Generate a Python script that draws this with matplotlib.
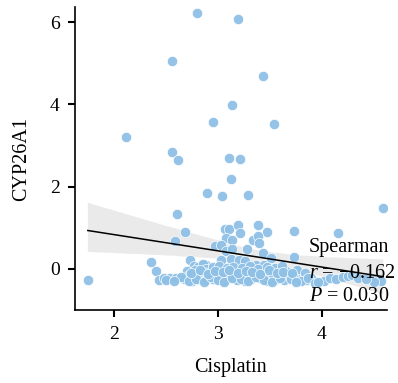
import matplotlib
matplotlib.use("Agg")
import matplotlib.pyplot as plt
import numpy as np
import seaborn as sns

# Cisplatin sensitivity vs CYP26A1 expression
cisplatin_high = [2.80, 3.19, 2.56, 3.43, 3.14, 2.95, 3.54, 2.12, 2.56, 2.62,
                  3.11, 3.21, 3.13, 2.90, 3.04, 3.29, 4.59, 2.61, 1.75]
cyp26a1_high = [6.21, 6.08, 5.05, 4.68, 3.99, 3.56, 3.52, 3.21, 2.83, 2.64,
                2.70, 2.66, 2.19, 1.84, 1.77, 1.80, 1.47, 1.33, -0.27]

cisplatin_mid = [2.68, 2.59, 3.07, 3.11, 3.19, 3.21, 3.39, 3.47, 3.73, 4.16,
                 3.08, 3.14, 3.34, 3.39, 3.40, 2.97, 3.03, 3.08, 3.14, 3.28,
                 3.43]
cyp26a1_mid = [0.90, 0.68, 0.97, 0.97, 1.06, 0.88, 1.06, 0.90, 0.92, 0.87,
               0.74, 0.70, 0.69, 0.79, 0.62, 0.55, 0.57, 0.44, 0.47, 0.49,
               0.39]

cisplatin_low = [2.36, 2.41, 2.73, 3.03, 3.13, 3.20, 3.26, 2.84, 2.89, 3.37,
                 3.44, 3.51, 3.73, 3.75, 3.76, 3.84, 2.77, 2.81, 2.86, 2.89]
cyp26a1_low = [0.16, -0.05, 0.20, 0.20, 0.23, 0.20, 0.19, 0.10, 0.09, 0.10,
               0.09, 0.25, 0.28, -0.02, -0.02, -0.10, 0.07, 0.03, 0.12, 0.00]

cisplatin_row_a = [2.70, 2.78, 2.86, 2.94, 2.99, 3.07, 3.13, 3.21, 3.28, 3.36,
                   3.42, 3.50, 3.60, 3.66]
cyp26a1_row_a = [-0.06, -0.02, -0.09, -0.04, -0.10, -0.05, -0.01, -0.08, -0.03,
                 -0.07, -0.11, -0.02, -0.09, -0.05]

cisplatin_row_b = [2.67, 2.75, 2.81, 2.89, 2.95, 3.04, 3.10, 3.18, 3.26, 3.32,
                   3.40, 3.48, 3.56, 3.64, 3.76, 3.85,
                   2.43, 2.48, 2.54, 2.60, 2.68]
cyp26a1_row_b = [-0.26, -0.30, -0.24, -0.28, -0.25, -0.31, -0.23, -0.27, -0.29,
                 -0.25, -0.22, -0.30, -0.26, -0.28, -0.24, -0.27,
                 -0.27, -0.23, -0.23, -0.23, -0.24]

cisplatin_row_c = [2.72, 2.80, 2.92, 3.00, 3.06, 3.12, 3.16, 3.24, 3.30, 3.35,
                   3.45, 3.53, 3.58, 3.68, 3.72]
cyp26a1_row_c = [-0.16, -0.13, -0.19, -0.15, -0.12, -0.18, -0.14, -0.17, -0.20,
                 -0.13, -0.16, -0.12, -0.19, -0.15, -0.17]

cisplatin_row_d = [2.95, 3.01, 3.09, 3.15, 3.23, 3.31, 3.39, 3.47, 3.55, 3.62]
cyp26a1_row_d = [0.03, 0.07, 0.01, 0.05, 0.02, 0.06, 0.00, 0.04, 0.02, 0.06]

cisplatin_row_e = [2.65, 2.72, 2.79, 2.87, 2.93, 3.00, 3.06, 3.14, 3.22, 3.29,
                   3.37, 3.44, 3.52, 3.60, 3.70, 3.80, 3.90, 4.02, 2.50, 2.58]
cyp26a1_row_e = [-0.21, -0.29, -0.24, -0.32, -0.20, -0.27, -0.33, -0.22, -0.25,
                 -0.30, -0.21, -0.28, -0.33, -0.23, -0.26, -0.30, -0.22, -0.29,
                 -0.28, -0.30]

cisplatin_row_f = [2.74, 2.83, 2.91, 2.97, 3.05, 3.11, 3.19, 3.27, 3.33, 3.41,
                   3.49, 3.57, 3.63, 3.71]
cyp26a1_row_f = [-0.10, -0.03, -0.12, -0.06, -0.09, -0.02, -0.11, -0.05, -0.08,
                 -0.12, -0.04, -0.10, -0.07, -0.11]

cisplatin_right = [3.87, 3.93, 3.96, 4.08, 4.14, 4.20, 4.25, 4.49, 4.57, 4.50,
                   3.75, 4.29, 4.35, 4.42]
cyp26a1_right = [-0.23, -0.35, -0.33, -0.22, -0.25, -0.20, -0.17, -0.27, -0.31,
                 -0.32, -0.33, -0.15, -0.22, -0.24]

x = np.array(cisplatin_high + cisplatin_mid + cisplatin_low + cisplatin_row_a
             + cisplatin_row_b + cisplatin_row_c + cisplatin_row_d
             + cisplatin_row_e + cisplatin_row_f + cisplatin_right)
y = np.array(cyp26a1_high + cyp26a1_mid + cyp26a1_low + cyp26a1_row_a
             + cyp26a1_row_b + cyp26a1_row_c + cyp26a1_row_d
             + cyp26a1_row_e + cyp26a1_row_f + cyp26a1_right)

spearman_r = -0.162
spearman_p = 0.030

plt.rcParams["font.family"] = ["Liberation Serif", "DejaVu Serif"]
plt.rcParams["mathtext.fontset"] = "custom"
plt.rcParams["mathtext.it"] = "Liberation Serif:italic"
plt.rcParams["mathtext.rm"] = "Liberation Serif"

fig = plt.figure(figsize=(3.98, 3.83), dpi=100)
ax = fig.add_axes([0.188, 0.19, 0.784, 0.791])

sns.regplot(x=x, y=y, ax=ax, seed=3, ci=95,
            scatter_kws=dict(s=55, color="#8EC0E6", alpha=0.95,
                             edgecolors="white", linewidths=0.5, zorder=2),
            line_kws=dict(color="black", lw=1.1, zorder=3))
# light grey confidence band
for coll in ax.collections[1:]:
    coll.set_facecolor("#e0e0e0")
    coll.set_alpha(0.65)
    coll.set_zorder(1)

ax.set_xlim(1.625, 4.625)
ax.set_ylim(-1.01, 6.36)
ax.set_xticks([2, 3, 4])
ax.set_yticks([0, 2, 4, 6])
ax.spines["top"].set_visible(False)
ax.spines["right"].set_visible(False)
for s in ("left", "bottom"):
    ax.spines[s].set_linewidth(1.2)
ax.tick_params(direction="out", length=5, width=1.5, labelsize=14, pad=6)

ax.set_xlabel("Cisplatin", fontsize=14.5, labelpad=11)
ax.set_ylabel("CYP26A1", fontsize=14.5, labelpad=13)

ax.text(3.875, 0.40, "Spearman", fontsize=14.5, ha="left", va="baseline", zorder=4)
ax.text(3.875, -0.22, f"$r$ = \u2212{abs(spearman_r):.3f}", fontsize=14.5,
        ha="left", va="baseline", zorder=4)
ax.text(3.875, -0.79, f"$P$ = {spearman_p:.3f}", fontsize=14.5,
        ha="left", va="baseline", zorder=4)

fig.savefig("out.png", dpi=100)
